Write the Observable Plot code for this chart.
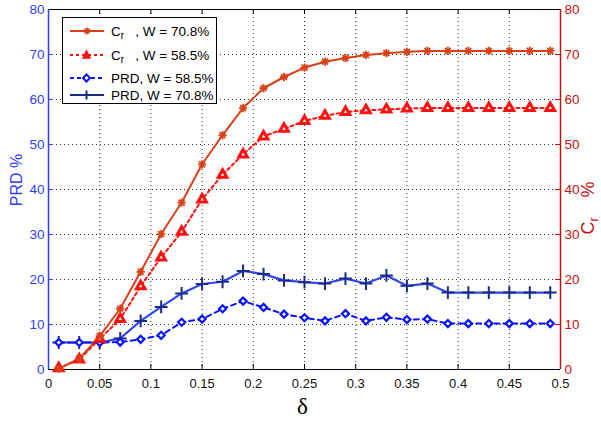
<!DOCTYPE html>
<html><head><meta charset="utf-8">
<script src="https://cdn.jsdelivr.net/npm/d3@7"></script>
<script src="https://cdn.jsdelivr.net/npm/@observablehq/plot@0.6"></script>
<style>
body{margin:0;background:#fff;}
#wrap{position:relative;width:601px;height:421px;font-family:"Liberation Sans",Arial,sans-serif;overflow:hidden;}
#legend{position:absolute;left:62px;top:17px;width:155px;height:87px;border:1px solid #000;background:#fff;box-sizing:border-box;}
.row{position:absolute;left:0;display:flex;align-items:center;font-size:13.5px;color:#000;white-space:pre;}
.row svg{margin-left:6px;margin-right:6px;}
.ylab{position:absolute;white-space:pre;line-height:1;}
</style></head>
<body><div id="wrap"></div>
<script>
const delta = [0.01,0.03,0.05,0.07,0.09,0.11,0.13,0.15,0.17,0.19,0.21,0.23,0.25,0.27,0.29,0.31,0.33,0.35,0.37,0.39,0.41,0.43,0.45,0.47,0.49];
const crW708 = [0.2,2.4,7.4,13.5,21.7,30.1,37.1,45.6,52.1,58.1,62.5,65.0,67.1,68.4,69.2,69.9,70.3,70.6,70.8,70.8,70.8,70.8,70.8,70.8,70.8];
const crW585 = [0.3,2.2,6.8,11.2,18.5,24.9,30.6,37.8,43.3,47.8,51.8,53.5,55.2,56.4,57.2,57.6,57.8,58.0,58.1,58.1,58.1,58.1,58.1,58.1,58.1];
const prdW585 = [6.0,6.0,6.0,6.1,6.7,7.6,10.5,11.2,13.5,15.2,13.8,12.3,11.5,10.8,12.4,10.8,11.6,11.1,11.2,10.2,10.2,10.2,10.2,10.2,10.2];
const prdW708 = [6.0,6.0,6.0,6.9,10.8,13.9,16.9,19.0,19.5,21.9,21.2,19.8,19.4,19.1,20.2,19.1,20.9,18.6,19.1,17.1,17.1,17.1,17.1,17.1,17.1];
const xTicks = [0,0.05,0.1,0.15,0.2,0.25,0.3,0.35,0.4,0.45,0.5];
const yTicks = [0,10,20,30,40,50,60,70,80];
const xGrid = [0.05,0.1,0.15,0.2,0.25,0.3,0.35,0.4,0.45];
const yGrid = [10,20,30,40,50,60,70];
const seriesNames = ["C_r, W = 70.8%","C_r, W = 58.5%","PRD, W = 58.5%","PRD, W = 70.8%"];

const BLUE = "#2f3ff5", RED = "#c81010";
const C1 = "#d8401a", C2 = "#ff1010", P1 = "#0a14ff", P2line = "#2f4ae8", P2mark = "#1c2a88";

const rows = (ys) => delta.map((d,i)=>({x:d, y:ys[i]}));
const s1 = rows(crW708), s2 = rows(crW585), s3 = rows(prdW585), s4 = rows(prdW708);

const W = 601, H = 421, mL = 48, mR = 41, mT = 9, mB = 52;
const ph = H - mT - mB, pw = W - mL - mR;

const chart = Plot.plot({
  width: W, height: H,
  marginLeft: mL, marginRight: mR, marginTop: mT, marginBottom: mB,
  style: {fontFamily: '"Liberation Sans", Arial, sans-serif', fontSize: "13px", background: "#fff"},
  x: {domain: [0, 0.5], axis: null},
  y: {domain: [0, 80], axis: null},
  marks: [
    Plot.ruleX(xGrid, {stroke: "#333", strokeDasharray: "1,3", strokeWidth: 1}),
    Plot.ruleY(yGrid, {stroke: "#333", strokeDasharray: "1,3", strokeWidth: 1}),
    Plot.tickX(xTicks, {x: d => d, insetTop: ph - 5, stroke: "#000"}),
    Plot.tickX(xTicks, {x: d => d, insetBottom: ph - 5, stroke: "#000"}),
    Plot.tickY(yTicks, {y: d => d, insetRight: pw - 5, stroke: BLUE}),
    Plot.tickY(yTicks, {y: d => d, insetLeft: pw - 5, stroke: RED}),
    Plot.ruleY([80], {stroke: "#000", strokeWidth: 1.2}),
    Plot.ruleY([0], {stroke: "#000", strokeWidth: 1.2}),
    Plot.ruleX([0], {stroke: BLUE, strokeWidth: 1.5}),
    Plot.ruleX([0.5], {stroke: RED, strokeWidth: 1.5}),
    Plot.axisX({ticks: xTicks, tickSize: 0, tickPadding: 9, fontSize: 13, color: "#111", label: null, tickFormat: d => String(d)}),
    Plot.axisY({anchor: "left", ticks: yTicks, tickSize: 0, tickPadding: 4, fontSize: 13.5, color: BLUE, label: null}),
    Plot.axisY({anchor: "right", ticks: yTicks, tickSize: 0, tickPadding: 4, fontSize: 13.5, color: RED, label: null}),
    Plot.line(s4, {x: "x", y: "y", stroke: P2line, strokeWidth: 2.2}),
    Plot.line(s3, {x: "x", y: "y", stroke: P1, strokeWidth: 2, strokeDasharray: "5,4"}),
    Plot.line(s2, {x: "x", y: "y", stroke: C2, strokeWidth: 2, strokeDasharray: "3,3"}),
    Plot.line(s1, {x: "x", y: "y", stroke: C1, strokeWidth: 2}),
    Plot.dot(s4, {x: "x", y: "y", symbol: "plus", r: 4.2, stroke: P2mark, strokeWidth: 2}),
    Plot.dot(s3, {x: "x", y: "y", symbol: "diamond2", r: 3.2, stroke: P1, fill: "#fff", strokeWidth: 2.2}),
    Plot.dot(s2, {x: "x", y: "y", symbol: "triangle", r: 3.2, stroke: C2, fill: "#fff", strokeWidth: 3}),
    Plot.dot(s1, {x: "x", y: "y", symbol: "plus", r: 2.8, stroke: C1, strokeWidth: 1.8}),
    Plot.dot(s1, {x: "x", y: "y", symbol: "times", r: 2.8, stroke: C1, strokeWidth: 1.8})
  ]
});

const wrap = document.getElementById("wrap");
wrap.appendChild(chart);

const xl = document.createElement("div");
xl.className = "ylab";
xl.style.cssText = `left:${mL + pw/2 - 7}px;top:395px;font-family:"Liberation Serif","DejaVu Serif",serif;font-size:23px;color:#000;`;
xl.textContent = "δ";
wrap.appendChild(xl);

const yl = document.createElement("div");
yl.className = "ylab";
yl.style.cssText = `left:8px;top:180px;font-size:16px;color:${BLUE};transform:translate(0,-50%) rotate(-90deg);transform-origin:center;`;
yl.innerHTML = "PRD %";
wrap.appendChild(yl);
yl.style.left = (17 - yl.offsetWidth/2) + "px";

const yr = document.createElement("div");
yr.className = "ylab";
yr.style.cssText = `top:208px;font-size:18px;color:${RED};transform:translate(0,-50%) rotate(-90deg);transform-origin:center;`;
yr.innerHTML = "C<sub style='font-size:12px'>r</sub>&nbsp;&nbsp;&nbsp; %";
wrap.appendChild(yr);
yr.style.left = (589 - yr.offsetWidth/2) + "px";

const leg = document.createElement("div");
leg.id = "legend";
wrap.appendChild(leg);
const legendSpec = [
  {name: seriesNames[0], top: 13, stroke: C1, dash: null, sym: "star", mark: C1},
  {name: seriesNames[1], top: 37, stroke: C2, dash: "3,3", sym: "triangle", mark: C2},
  {name: seriesNames[2], top: 60, stroke: P1, dash: "4,3", sym: "diamond", mark: P1},
  {name: seriesNames[3], top: 77, stroke: P2mark, dash: null, sym: "plus", mark: P2mark}
];
legendSpec.forEach(s => {
  const r = document.createElement("div");
  r.className = "row";
  r.style.top = (s.top - 9) + "px";
  r.style.height = "18px";
  let m = "";
  if (s.sym === "star") m = `<path d="M18,12.5V5.5M14.5,9H21.5M15.5,6.5L20.5,11.5M20.5,6.5L15.5,11.5" stroke="${s.mark}" stroke-width="1.6"/>`;
  if (s.sym === "triangle") m = `<path d="M17.5,5L21,12H14Z" fill="${s.mark}" stroke="${s.mark}" stroke-width="1.5"/>`;
  if (s.sym === "diamond") m = `<path d="M17.5,5.5L21,9L17.5,12.5L14,9Z" fill="#fff" stroke="${s.mark}" stroke-width="2"/>`;
  if (s.sym === "plus") m = `<path d="M17.5,4.5V13.5M13,9H22" stroke="${s.mark}" stroke-width="2"/>`;
  const lbl = s.name.startsWith("C_r")
    ? `C<sub style="font-size:10px;position:relative;top:3px;vertical-align:baseline">r</sub>   ${s.name.slice(3)}`
    : s.name;
  r.innerHTML = `<svg width="36" height="18"><line x1="1" y1="9" x2="35" y2="9" stroke="${s.stroke}" stroke-width="2" ${s.dash ? `stroke-dasharray="${s.dash}"` : ""}/>${m}</svg><span>${lbl}</span>`;
  leg.appendChild(r);
});
</script>
</body></html>
